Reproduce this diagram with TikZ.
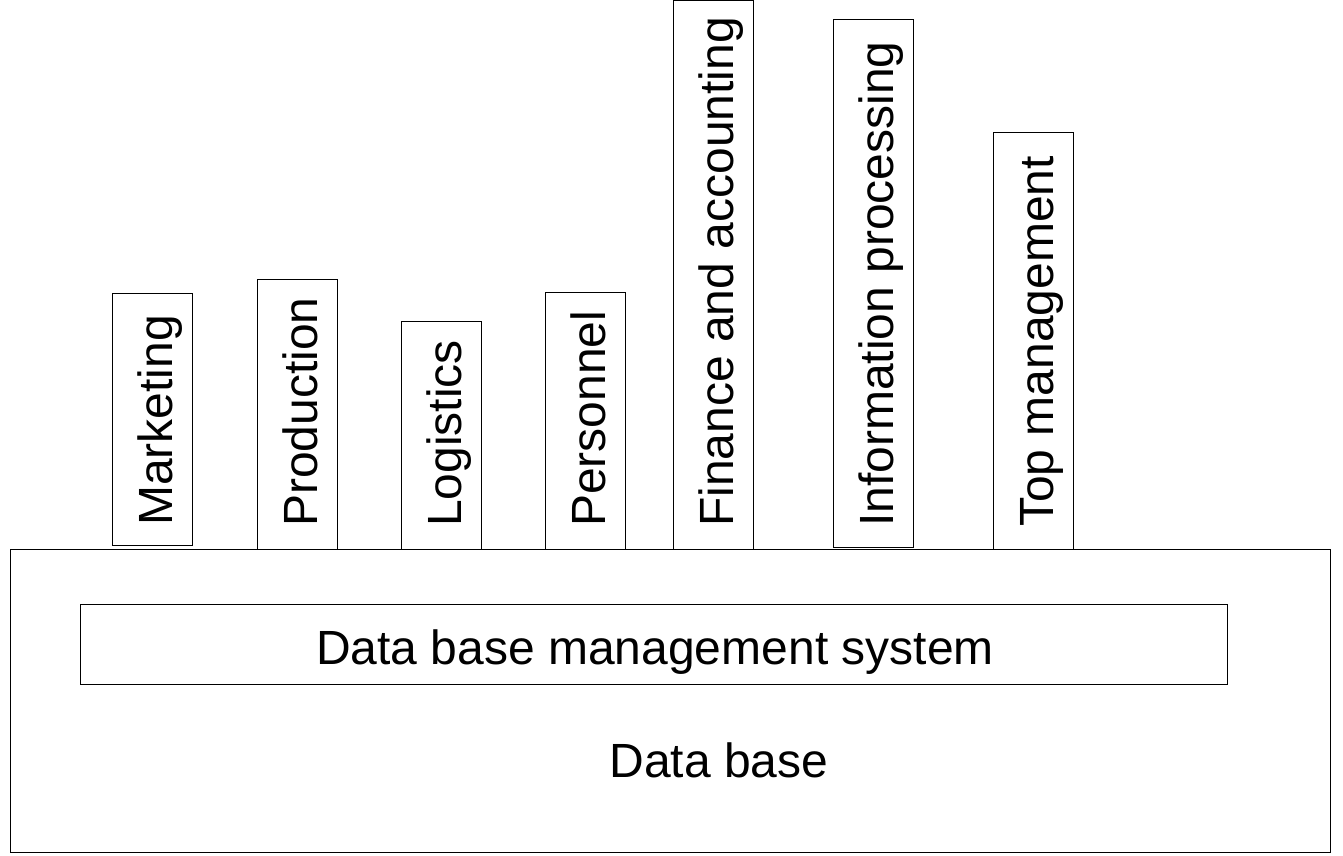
\documentclass[tikz,border=0pt]{standalone}
\usepackage{fontspec}
\setmainfont{Liberation Sans}
\usetikzlibrary{calc}
\begin{document}
\begin{tikzpicture}[x=1pt,y=1pt,
  box/.style={draw=black,line width=1.4pt,inner sep=0pt,anchor=south west},
  lab/.style={inner sep=0pt,font=\fontsize{48}{58}\selectfont},
  vlab/.style={lab,rotate=90,anchor=base west}]
\useasboundingbox (0,0) rectangle (1343,856);
% main data base box
\node[box,minimum width=1320pt,minimum height=303pt] (db) at (10,3) {};
\node[box,minimum width=1147pt,minimum height=80pt] (dbms) at (80,171) {};
\node[lab,anchor=base] (dbmst) at (655,191) {Data base management system};
\node[lab,anchor=base] (dbt) at (719,78) {Data base};
% columns
\node[box,minimum width=80pt,minimum height=252pt] (mk) at (112,310) {};
\node[vlab] (mkt) at (172,330) {Marketing};
\node[box,minimum width=80pt,minimum height=270pt] (pr) at (257,306) {};
\node[vlab] (prt) at (317,329) {Production};
\node[box,minimum width=80pt,minimum height=228pt] (lo) at (401,306) {};
\node[vlab] (lot) at (461,329) {Logistics};
\node[box,minimum width=80pt,minimum height=257pt] (pe) at (545,306) {};
\node[vlab] (pet) at (605,329) {Personnel};
\node[box,minimum width=80pt,minimum height=549pt] (fi) at (673,306) {};
\node[vlab] (fit) at (733,329) {Finance and accounting};
\node[box,minimum width=80pt,minimum height=528pt] (in) at (833,308) {};
\node[vlab] (int) at (893,329) {Information processing};
\node[box,minimum width=80pt,minimum height=417pt] (tm) at (993,306) {};
\node[vlab] (tmt) at (1053,329) {Top management};
\end{tikzpicture}
\end{document}
